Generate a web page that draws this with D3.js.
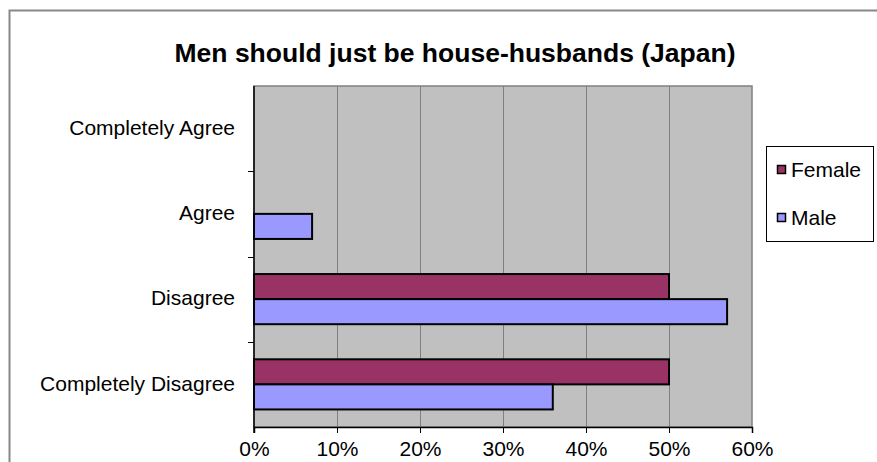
<!DOCTYPE html>
<html>
<head>
<meta charset="utf-8">
<script src="https://cdn.jsdelivr.net/npm/d3@7"></script>
<style>
  html, body { margin: 0; padding: 0; background: #fff; }
  svg { display: block; font-family: "Liberation Sans", Arial, sans-serif; }
</style>
</head>
<body>
<svg id="chart" width="877" height="462"></svg>
<script>
// Survey answers, top to bottom
const categories = ["Completely Agree", "Agree", "Disagree", "Completely Disagree"];
const seriesNames = ["Female", "Male"];
const femaleValues = [0, 0, 0.50, 0.50];
const maleValues = [0, 0.07, 0.57, 0.36];
const tickValues = [0, 0.1, 0.2, 0.3, 0.4, 0.5, 0.6];
const titleText = "Men should just be house-husbands (Japan)";

const colors = { Female: "#993366", Male: "#9999FF" };
const labelSize = 21;

const svg = d3.select("#chart");
const plot = { left: 254, right: 752, top: 86, bottom: 427 };

// outer frame
svg.append("rect")
  .attr("x", 9.5).attr("y", 10.5)
  .attr("width", 900).attr("height", 500)
  .attr("fill", "#fff").attr("stroke", "#888").attr("stroke-width", 2);

const x = d3.scaleLinear().domain([0, 0.6]).range([plot.left, plot.right]);
const y = d3.scaleBand().domain(categories).range([plot.top, plot.bottom]);
const inner = d3.scaleBand().domain(seriesNames)
  .range([0, y.bandwidth()]).paddingOuter(0.7).paddingInner(0);

// plot background
svg.append("rect")
  .attr("x", plot.left).attr("y", plot.top)
  .attr("width", plot.right - plot.left).attr("height", plot.bottom - plot.top)
  .attr("fill", "#C0C0C0").attr("stroke", "#808080").attr("stroke-width", 1.5);

// vertical gridlines
svg.append("g").selectAll("line")
  .data(tickValues.slice(1, -1))
  .join("line")
  .attr("x1", d => Math.round(x(d)) + 0.5).attr("x2", d => Math.round(x(d)) + 0.5)
  .attr("y1", plot.top).attr("y2", plot.bottom)
  .attr("stroke", "#808080").attr("stroke-width", 1);

// bars
const rows = categories.map((c, i) => ({
  category: c,
  values: [{ name: "Female", v: femaleValues[i] }, { name: "Male", v: maleValues[i] }]
}));

const groups = svg.append("g").selectAll("g")
  .data(rows).join("g")
  .attr("transform", d => `translate(0,${y(d.category)})`);

groups.selectAll("rect")
  .data(d => d.values.filter(e => e.v > 0))
  .join("rect")
  .attr("x", x(0))
  .attr("y", d => inner(d.name))
  .attr("width", d => x(d.v) - x(0))
  .attr("height", inner.bandwidth())
  .attr("fill", d => colors[d.name])
  .attr("stroke", "#000").attr("stroke-width", 2);

// x axis
const xAxis = d3.axisBottom(x).tickValues(tickValues)
  .tickFormat(d3.format(".0%")).tickSize(6).tickPadding(8);
const gx = svg.append("g").attr("transform", `translate(0,${plot.bottom})`).call(xAxis);
gx.select(".domain").attr("stroke", "#000").attr("stroke-width", 1.5);
gx.selectAll(".tick line").attr("stroke", "#000");
gx.selectAll("text").attr("font-size", labelSize).attr("fill", "#000")
  .attr("font-family", "Liberation Sans, Arial, sans-serif");

// y axis: ticks sit on the category boundaries
const gy = svg.append("g").attr("transform", `translate(${plot.left},0)`);
gy.append("line")
  .attr("x1", 0).attr("x2", 0).attr("y1", plot.top).attr("y2", plot.bottom + 6)
  .attr("stroke", "#000").attr("stroke-width", 1.5);
gy.selectAll("line.tick")
  .data(categories.slice(1))
  .join("line").attr("class", "tick")
  .attr("x1", -6).attr("x2", 0)
  .attr("y1", d => Math.round(y(d)) + 0.5).attr("y2", d => Math.round(y(d)) + 0.5)
  .attr("stroke", "#000");
gy.selectAll("text")
  .data(categories)
  .join("text")
  .attr("x", -19)
  .attr("y", d => y(d) + y.bandwidth() / 2)
  .attr("dy", "0.3em")
  .attr("text-anchor", "end")
  .attr("font-size", labelSize)
  .text(d => d);

// title
svg.append("text")
  .attr("x", 455).attr("y", 62)
  .attr("text-anchor", "middle")
  .attr("font-size", 26.5).attr("font-weight", "bold")
  .text(titleText);

// legend
const legend = svg.append("g").attr("transform", "translate(766.5,146.5)");
legend.append("rect")
  .attr("width", 107).attr("height", 95)
  .attr("fill", "#fff").attr("stroke", "#000").attr("stroke-width", 1);
const items = legend.selectAll("g.item")
  .data(seriesNames).join("g").attr("class", "item")
  .attr("transform", (d, i) => `translate(11,${19 + i * 48})`);
items.append("rect")
  .attr("width", 8).attr("height", 8)
  .attr("fill", d => colors[d]).attr("stroke", "#000").attr("stroke-width", 1.5);
items.append("text")
  .attr("x", 13.5).attr("y", 4).attr("dy", "0.35em")
  .attr("font-size", labelSize)
  .text(d => d);
</script>
</body>
</html>
